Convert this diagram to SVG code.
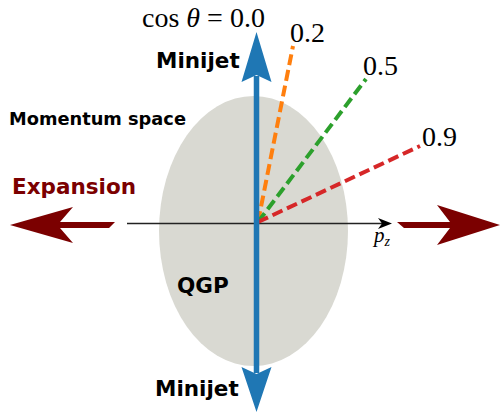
<svg xmlns="http://www.w3.org/2000/svg" width="501" height="412" viewBox="0 0 501 412">
<style>
.lbl{font-family:"DejaVu Sans",sans-serif;font-weight:bold;fill:#000}
.math{font-family:"Liberation Serif","DejaVu Serif",serif;fill:#000}
.dash{fill:none;stroke-width:4;stroke-dasharray:11,5}
</style>
<rect width="501" height="412" fill="#fff"/>
<g id="qgp">
<ellipse cx="253.5" cy="231" rx="94.5" ry="135" fill="#d9d9d2"/>
<text class="lbl" x="177" y="293" font-size="21.5">QGP</text>
</g>
<g id="expansion">
<text x="12" y="194" font-family="DejaVu Sans,sans-serif" font-weight="bold" font-size="21.5" fill="#7b0000">Expansion</text>
<polygon fill="#7b0000" points="10,225 73,207 60,222 115,222 109,228 60,228 73,243"/>
<polygon fill="#7b0000" points="397,222 450,222 437,205 500,225 437,245 450,228 404,228"/>
</g>
<g id="momentum">
<text class="lbl" x="9" y="125" font-size="17.8">Momentum space</text>
</g>
<g id="connectors">
<line x1="127" y1="223.5" x2="383" y2="223.5" stroke="#222" stroke-width="1.6"/>
<polygon fill="#000" points="392,223.5 378,218 382,223.5 378,229"/>
<line class="dash" x1="258" y1="222" x2="293" y2="46" stroke="#ff7f0e"/>
<line class="dash" x1="258" y1="222" x2="366" y2="79" stroke="#2ca02c"/>
<line class="dash" x1="258" y1="222" x2="420" y2="146" stroke="#d62728"/>
<line x1="256.5" y1="76" x2="256.5" y2="373" stroke="#1f77b4" stroke-width="5.5"/>
<polygon fill="#1f77b4" points="256.5,32 271.5,82 256.5,75 241.5,82"/>
<polygon fill="#1f77b4" points="256.5,412 271.5,367 256.5,374 241.5,367"/>
</g>
<g id="minijet-top">
<text class="lbl" x="156" y="68" font-size="21.5">Minijet</text>
</g>
<g id="minijet-bottom">
<text class="lbl" x="155" y="396" font-size="21.5">Minijet</text>
</g>
<g id="labels">
<text class="math" x="142" y="27" font-size="28">cos <tspan font-style="italic">θ</tspan> = 0.0</text>
<text class="math" x="290" y="42" font-size="28">0.2</text>
<text class="math" x="363" y="75" font-size="28">0.5</text>
<text class="math" x="422" y="146" font-size="28">0.9</text>
<text class="math" x="374" y="242" font-size="21" font-style="italic">p<tspan font-size="14" dy="4">z</tspan></text>
</g>
</svg>
